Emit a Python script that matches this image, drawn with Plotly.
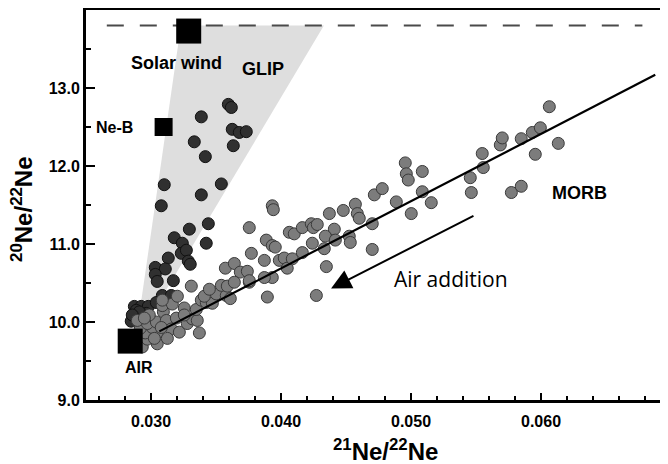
import plotly.graph_objects as go

# ---------------- data ----------------
# MORB samples (grey circles): 21Ne/22Ne, 20Ne/22Ne
morb_x = [0.02933, 0.02972, 0.03048, 0.02956, 0.03048, 0.03010, 0.02918, 0.02972, 0.03041, 0.02987,
          0.03095, 0.03087, 0.03118, 0.03156, 0.03218, 0.03195, 0.03164, 0.03087, 0.03256, 0.03279,
          0.03318, 0.03356, 0.03372, 0.03348, 0.03387, 0.03425, 0.03472, 0.03410, 0.03502, 0.03579,
          0.03610, 0.03310, 0.03541, 0.03587, 0.03756, 0.03572, 0.03641, 0.03687, 0.03741, 0.03756,
          0.03772, 0.03756, 0.03887, 0.03933, 0.03956, 0.03872, 0.03933, 0.03895, 0.03987, 0.04025,
          0.04048, 0.04087, 0.04164, 0.04241, 0.04333, 0.04349, 0.04272, 0.03933, 0.03941, 0.04064,
          0.04102, 0.04164, 0.04233, 0.04249, 0.04279, 0.04372, 0.04479, 0.04572, 0.04587, 0.04602,
          0.04410, 0.04341, 0.04418, 0.04525, 0.04533, 0.04702, 0.04718, 0.04702, 0.04779, 0.04887,
          0.04956, 0.04964, 0.04979, 0.05087, 0.05087, 0.05156, 0.05002, 0.05456, 0.05464, 0.05548,
          0.05556, 0.05687, 0.05702, 0.05848, 0.05933, 0.05995, 0.06064, 0.06133, 0.05956, 0.05772,
          0.05848, 0.03872, 0.02895, 0.02949, 0.03026, 0.03126, 0.03079, 0.03256, 0.03203, 0.03449,
          0.03641]
morb_y = [9.68, 9.78, 9.72, 9.86, 9.86, 9.93, 9.92, 9.98, 10.00, 10.09,
          10.13, 10.21, 10.02, 9.91, 9.87, 10.05, 10.23, 10.28, 10.18, 9.98,
          10.04, 10.02, 9.86, 10.16, 10.28, 10.25, 10.24, 10.33, 10.36, 10.34,
          10.30, 10.46, 10.47, 10.46, 10.51, 10.69, 10.75, 10.64, 10.65, 10.53,
          10.88, 11.21, 11.05, 10.98, 10.96, 10.79, 10.57, 10.32, 10.79, 10.82,
          10.69, 10.81, 10.89, 11.01, 10.94, 10.71, 10.34, 11.49, 11.44, 11.15,
          11.13, 11.21, 11.26, 11.21, 11.25, 11.39, 11.43, 11.51, 11.39, 11.33,
          11.19, 11.10, 11.05, 11.10, 11.02, 11.26, 11.63, 10.93, 11.71, 11.54,
          12.04, 11.90, 11.82, 11.93, 11.67, 11.53, 11.39, 11.85, 11.66, 12.16,
          11.98, 12.27, 12.36, 12.35, 12.43, 12.49, 12.76, 12.29, 12.15, 11.66,
          11.74, 10.57, 10.02, 10.05, 9.79, 9.79, 9.93, 10.09, 10.33, 10.42,
          10.51]

# GLIP samples (dark circles)
glip_x = [0.03595, 0.03618, 0.03387, 0.03625, 0.03679, 0.03733, 0.03333, 0.03633, 0.03418, 0.03102,
          0.03541, 0.03387, 0.03079, 0.03441, 0.03295, 0.03179, 0.03241, 0.03425, 0.03233, 0.03272,
          0.03133, 0.03287, 0.03302, 0.03033, 0.03110, 0.03033, 0.03048, 0.03172, 0.03087, 0.03156,
          0.02872, 0.02925, 0.02979, 0.02848, 0.02895, 0.02964, 0.03041, 0.02887, 0.02910, 0.02856]
glip_y = [12.79, 12.75, 12.63, 12.47, 12.43, 12.44, 12.31, 12.26, 12.12, 11.76,
          11.77, 11.63, 11.49, 11.26, 11.19, 11.08, 11.01, 11.01, 10.88, 10.92,
          10.82, 10.78, 10.74, 10.70, 10.68, 10.61, 10.52, 10.53, 10.34, 10.34,
          10.20, 10.20, 10.20, 10.01, 10.06, 10.11, 10.25, 10.15, 10.13, 10.09]

# end-members (black squares)
end_names = ["Solar wind", "Ne-B", "AIR"]
end_x = [0.0329, 0.03097, 0.0284]
end_y = [13.73, 12.50, 9.755]

# GLIP field (shaded wedge)
glip_field_x = [0.0323, 0.0433, 0.0288]
glip_field_y = [13.8, 13.8, 9.75]

# MORB correlation line
morb_line_x = [0.03064, 0.06879]
morb_line_y = [9.88, 13.17]

# solar wind reference level
solar_level = 13.8
solar_line_x = [0.0266, 0.0678]

# "Air addition" arrow (tail -> head)
arrow_tail = (0.05492, 11.37)
arrow_head = (0.04385, 10.43)

x_ticks = [0.030, 0.040, 0.050, 0.060]
x_tick_text = ["0.030", "0.040", "0.050", "0.060"]
y_ticks = [9, 10, 11, 12, 13]
y_tick_text = ["9.0", "10.0", "11.0", "12.0", "13.0"]

# ---------------- figure ----------------
FONT = "Liberation Sans"
fig = go.Figure()

fig.add_trace(go.Scatter(x=glip_field_x + [glip_field_x[0]], y=glip_field_y + [glip_field_y[0]],
                         mode="lines", fill="toself", fillcolor="rgb(222,222,222)",
                         line=dict(width=0), hoverinfo="skip", showlegend=False))

fig.add_trace(go.Scatter(x=solar_line_x, y=[solar_level, solar_level], mode="lines",
                         line=dict(color="#4a4a4a", width=2, dash="17px,16px"),
                         hoverinfo="skip", showlegend=False))

fig.add_trace(go.Scatter(x=glip_x, y=glip_y, mode="markers",
                         marker=dict(size=12, color="#303030", opacity=1,
                                     line=dict(color="#111111", width=1)),
                         showlegend=False))

fig.add_trace(go.Scatter(x=morb_x, y=morb_y, mode="markers",
                         marker=dict(size=12, color="#7c7c7c", opacity=1,
                                     line=dict(color="#3a3a3a", width=1)),
                         showlegend=False))

fig.add_trace(go.Scatter(x=morb_line_x, y=morb_line_y, mode="lines",
                         line=dict(color="black", width=2.2), showlegend=False))

fig.add_trace(go.Scatter(x=end_x, y=end_y, mode="markers",
                         marker=dict(symbol="square", size=[25, 18, 25], color="#000000",
                                     opacity=1, line=dict(width=0)),
                         text=end_names, hoverinfo="text", showlegend=False))

fig.add_annotation(x=arrow_head[0], y=arrow_head[1], ax=arrow_tail[0], ay=arrow_tail[1],
                   xref="x", yref="y", axref="x", ayref="y", text="", showarrow=True,
                   arrowhead=2, arrowsize=2.0, arrowwidth=2, arrowcolor="black")

labels = [
    ("<b>Solar wind</b>", 0.03195, 13.32, 18),
    ("<b>GLIP</b>", 0.03865, 13.245, 18),
    ("<b>Ne-B</b>", 0.02722, 12.50, 16),
    ("<b>AIR</b>", 0.02906, 9.42, 16),
    ("<b>MORB</b>", 0.06295, 11.65, 18),
]
for t, x, y, s in labels:
    fig.add_annotation(x=x, y=y, xref="x", yref="y", text=t, showarrow=False,
                       font=dict(family=FONT, size=s, color="black"))

fig.add_annotation(x=0.05310, y=10.55, xref="x", yref="y", text="Air addition", showarrow=False,
                   font=dict(family="Open Sans", size=21, color="black"))

fig.add_annotation(x=0.515, y=-0.128, xref="paper", yref="paper",
                   xanchor="center", yanchor="middle",
                   text="<b><sup>21</sup>Ne/<sup>22</sup>Ne</b>", showarrow=False,
                   font=dict(family=FONT, size=24, color="black"))
fig.add_annotation(x=-0.110, y=0.49, xref="paper", yref="paper",
                   xanchor="center", yanchor="middle", textangle=-90,
                   text="<b><sup>20</sup>Ne/<sup>22</sup>Ne</b>", showarrow=False,
                   font=dict(family=FONT, size=24, color="black"))

fig.update_xaxes(range=[0.025, 0.025 + 582 / 13000], showgrid=False, zeroline=False,
                 showline=True, linecolor="black", linewidth=3, mirror=True,
                 tickvals=x_ticks, ticktext=x_tick_text, ticks="inside", ticklen=7,
                 tickwidth=2, tickcolor="black", ticklabelstandoff=5,
                 tickfont=dict(family=FONT, size=16, color="black", weight="bold"),
                 minor=dict(ticks="inside", tick0=0.030, dtick=0.002, ticklen=4,
                            tickwidth=2, tickcolor="black", showgrid=False))
fig.update_yaxes(range=[9, 14], showgrid=False, zeroline=False,
                 showline=True, linecolor="black", linewidth=3,
                 tickvals=y_ticks, ticktext=y_tick_text, ticks="inside", ticklen=9,
                 tickwidth=2, tickcolor="black",
                 tickfont=dict(family=FONT, size=16, color="black", weight="bold"),
                 minor=dict(ticks="inside", tick0=9, dtick=0.5, ticklen=5,
                            tickwidth=2, tickcolor="black", showgrid=False))

# the page body adds an 8px offset, so the figure is 8px smaller than the window
fig.update_layout(width=660, height=456, margin=dict(l=78, r=0, t=2, b=64),
                  plot_bgcolor="white", paper_bgcolor="white", showlegend=False)

fig.write_html("out.html")
